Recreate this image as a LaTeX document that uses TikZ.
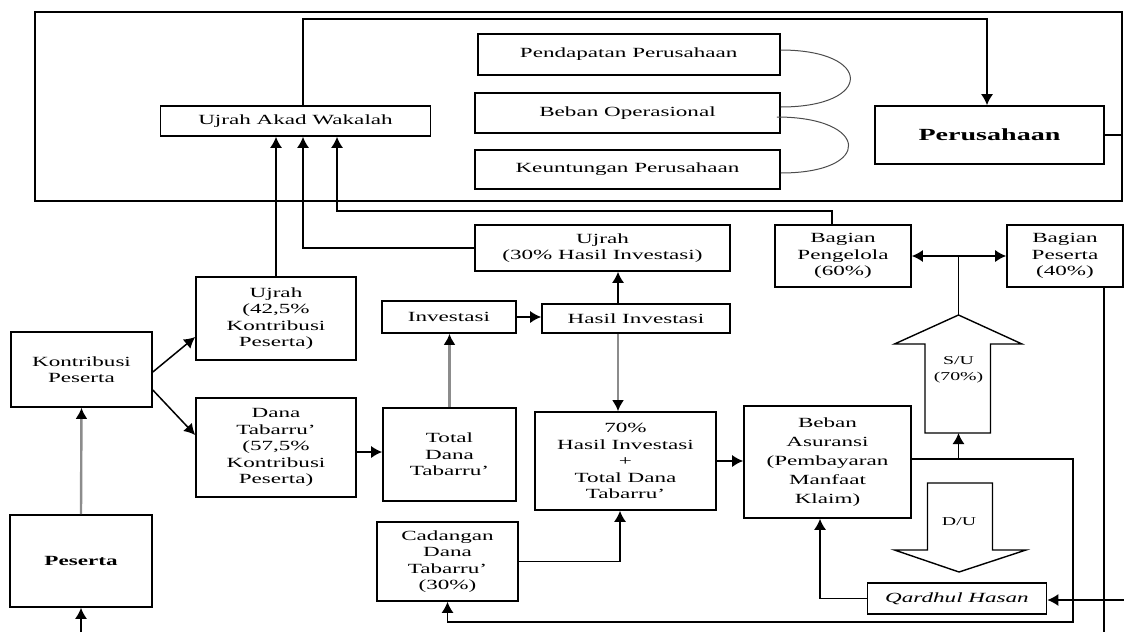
\documentclass[tikz,border=0pt]{standalone}
\usepackage{fontspec}
\setmainfont[FakeStretch=1.65]{Liberation Serif}
\usetikzlibrary{arrows.meta}
\tikzstyle{block} = [rectangle, draw=black, line width=1.6pt, align=center, inner sep=0pt, font=\fontsize{14}{16.5}\selectfont]
\tikzstyle{flow} = [line width=1.5pt, -{Latex[length=11pt,width=12pt]}]
\tikzstyle{grayflow} = [draw=black!45, line width=2.4pt, -{Latex[length=11pt,width=12pt,color=black]}]

\begin{document}
\begin{tikzpicture}[x=1pt,y=-1pt]
        \useasboundingbox (0,0) rectangle (1124,632);
        % bagian perusahaan
        \node[draw, line width=1.6pt, minimum width=1087, minimum height=189] (frame) at (578.5,106.5) {};
        \node[block, minimum width=270, minimum height=30] (uaw) at (295.5,121) {Ujrah Akad Wakalah};
        \node[block, minimum width=302, minimum height=41] (pend) at (628.7,54.5) {Pendapatan Perusahaan};
        \node[block, minimum width=305, minimum height=40] (bop) at (627.5,113) {Beban Operasional};
        \node[block, minimum width=305, minimum height=39] (untung) at (627.5,169.5) {Keuntungan Perusahaan};
        \node[block, minimum width=229, minimum height=58, font=\fontsize{17}{20}\selectfont\bfseries] (perus) at (989.5,135) {Perusahaan};
        % bagian peserta
        \node[block, minimum width=141, minimum height=75] (kontri) at (81.5,369.5) {Kontribusi\\Peserta};
        \node[block, minimum width=142, minimum height=92, font=\fontsize{14}{16.5}\selectfont\bfseries] (peserta) at (81,561) {Peserta};
        \node[block, minimum width=160, minimum height=83] (ujrah42) at (276,318.5) {Ujrah\\(42,5\%\\Kontribusi\\Peserta)};
        \node[block, minimum width=160, minimum height=99] (dana) at (276,447.5) {Dana\\Tabarru'\\(57,5\%\\Kontribusi\\Peserta)};
        \node[block, minimum width=134, minimum height=32] (invest) at (449,317) {Investasi};
        \node[block, minimum width=133, minimum height=93] (total) at (449.5,454.5) {Total\\Dana\\Tabarru'};
        \node[block, minimum width=141, minimum height=79] (cad) at (447.5,561.5) {Cadangan\\Dana\\Tabarru'\\(30\%)};
        \node[block, minimum width=255, minimum height=46] (ujrah30) at (602.5,248) {Ujrah\\(30\% Hasil Investasi)};
        \node[block, minimum width=188, minimum height=29] (hasil) at (636,318.5) {Hasil Investasi};
        \node[block, minimum width=181, minimum height=98] (seventy) at (625.5,461) {70\%\\Hasil Investasi\\+\\Total Dana\\Tabarru'};
        \node[block, minimum width=167, minimum height=112, font=\fontsize{14}{19}\selectfont] (beban) at (827.5,462) {Beban\\Asuransi\\(Pembayaran\\Manfaat\\Klaim)};
        \node[block, minimum width=136, minimum height=62] (pengelola) at (843,256) {Bagian\\Pengelola\\(60\%)};
        \node[block, minimum width=116, minimum height=62] (bpeserta) at (1065,256) {Bagian\\Peserta\\(40\%)};
        \node[block, minimum width=179, minimum height=31] (qardh) at (957,598.5) {\textit{Qardhul Hasan}};
        \coordinate (ctop) at (640,19);
        \coordinate (pbot) at (81,632);
        \coordinate (rdown) at (1073,622);
        \coordinate (pbr) at (1104,632);
        \coordinate (qin) at (1124,600);
        \coordinate (subot) at (958.5,433);
        \coordinate (sutip) at (958.5,315);
        % panah blok S/U dan D/U
        \draw[line width=1.4pt] (subot) -- (925,433) -- (925,344) -- (894.5,344) -- (sutip) -- (1022,344) -- (990.5,344) -- (990.5,433) -- cycle;
        \node[font=\fontsize{12}{16}\selectfont, align=center] (sulabel) at (958.5,370) {S/U\\(70\%)};
        \draw[line width=1.4pt] (927.5,483) -- (992.5,483) -- (992.5,550) -- (1026,550) -- (959,572) -- (894.5,550) -- (927.5,550) -- cycle;
        \node[font=\fontsize{12}{16}\selectfont] (dulabel) at (959,522) {D/U};
        % garis lengkung
        \draw[black!70, line width=1pt] ([yshift=4.5pt]pend.east) .. controls +(93,0) and +(93,0) .. ([yshift=6pt]bop.east);
        \draw[black!70, line width=1pt] ([xshift=-4pt,yshift=-4pt]bop.east) .. controls +(93,0) and +(93,0) .. ([yshift=-3.5pt]untung.east);
        \begin{scope}[flow]
            \draw ([xshift=7.5pt]uaw.north) |- (ctop) -| ([xshift=-2.5pt]perus.north);
            \draw (kontri.east) ++(0,2.5) -- ([yshift=-18.5pt]ujrah42.west);
            \draw (kontri.east) ++(0,20.5) -- ([yshift=12.5pt]dana.west);
            \draw (ujrah42.north) -- (ujrah42.north |- uaw.south);
            \draw (ujrah30.west) -| ([xshift=7.5pt]uaw.south);
            \draw ([xshift=-11pt]pengelola.north) -- ++(0,-13) -| ([xshift=41.5pt]uaw.south);
            \draw ([xshift=-18pt]hasil.north) -- ([xshift=-18pt]hasil.north |- ujrah30.south);
            \draw (invest.east) -- (invest.east -| hasil.west);
            \draw ([yshift=2.5pt]total.west -| dana.east) -- ([yshift=2.5pt]total.west);
            \draw (cad.east) -| ([xshift=-5.5pt]seventy.south);
            \draw (seventy.east) -- (seventy.east -| beban.west);
            \draw ([yshift=3pt]beban.east) -| (rdown) -| (cad.south);
            \draw ([yshift=3pt]beban.east) -| (subot);
            \draw (sutip) -- (sutip |- pengelola.east) -- (pengelola.east);
            \draw (sutip |- bpeserta.west) -- (bpeserta.west);
            \draw (qin) -- (qin -| qardh.east);
            \draw (qardh.west) -| ([xshift=-7.5pt]beban.south);
            \draw (pbot) -- (peserta.south);
        \end{scope}
        \draw[grayflow] (peserta.north) -- (kontri.south);
        \draw[grayflow] (total.north) -- (total.north |- invest.south);
        \draw[grayflow] ([xshift=-18pt]hasil.south) -- ([xshift=-18pt]hasil.south |- seventy.north);
        \draw[line width=1.5pt] (perus.east) -- (perus.east -| frame.east);
        \draw[line width=1.5pt] (pbr |- bpeserta.south) -- (pbr);
    \end{tikzpicture}
\end{document}
